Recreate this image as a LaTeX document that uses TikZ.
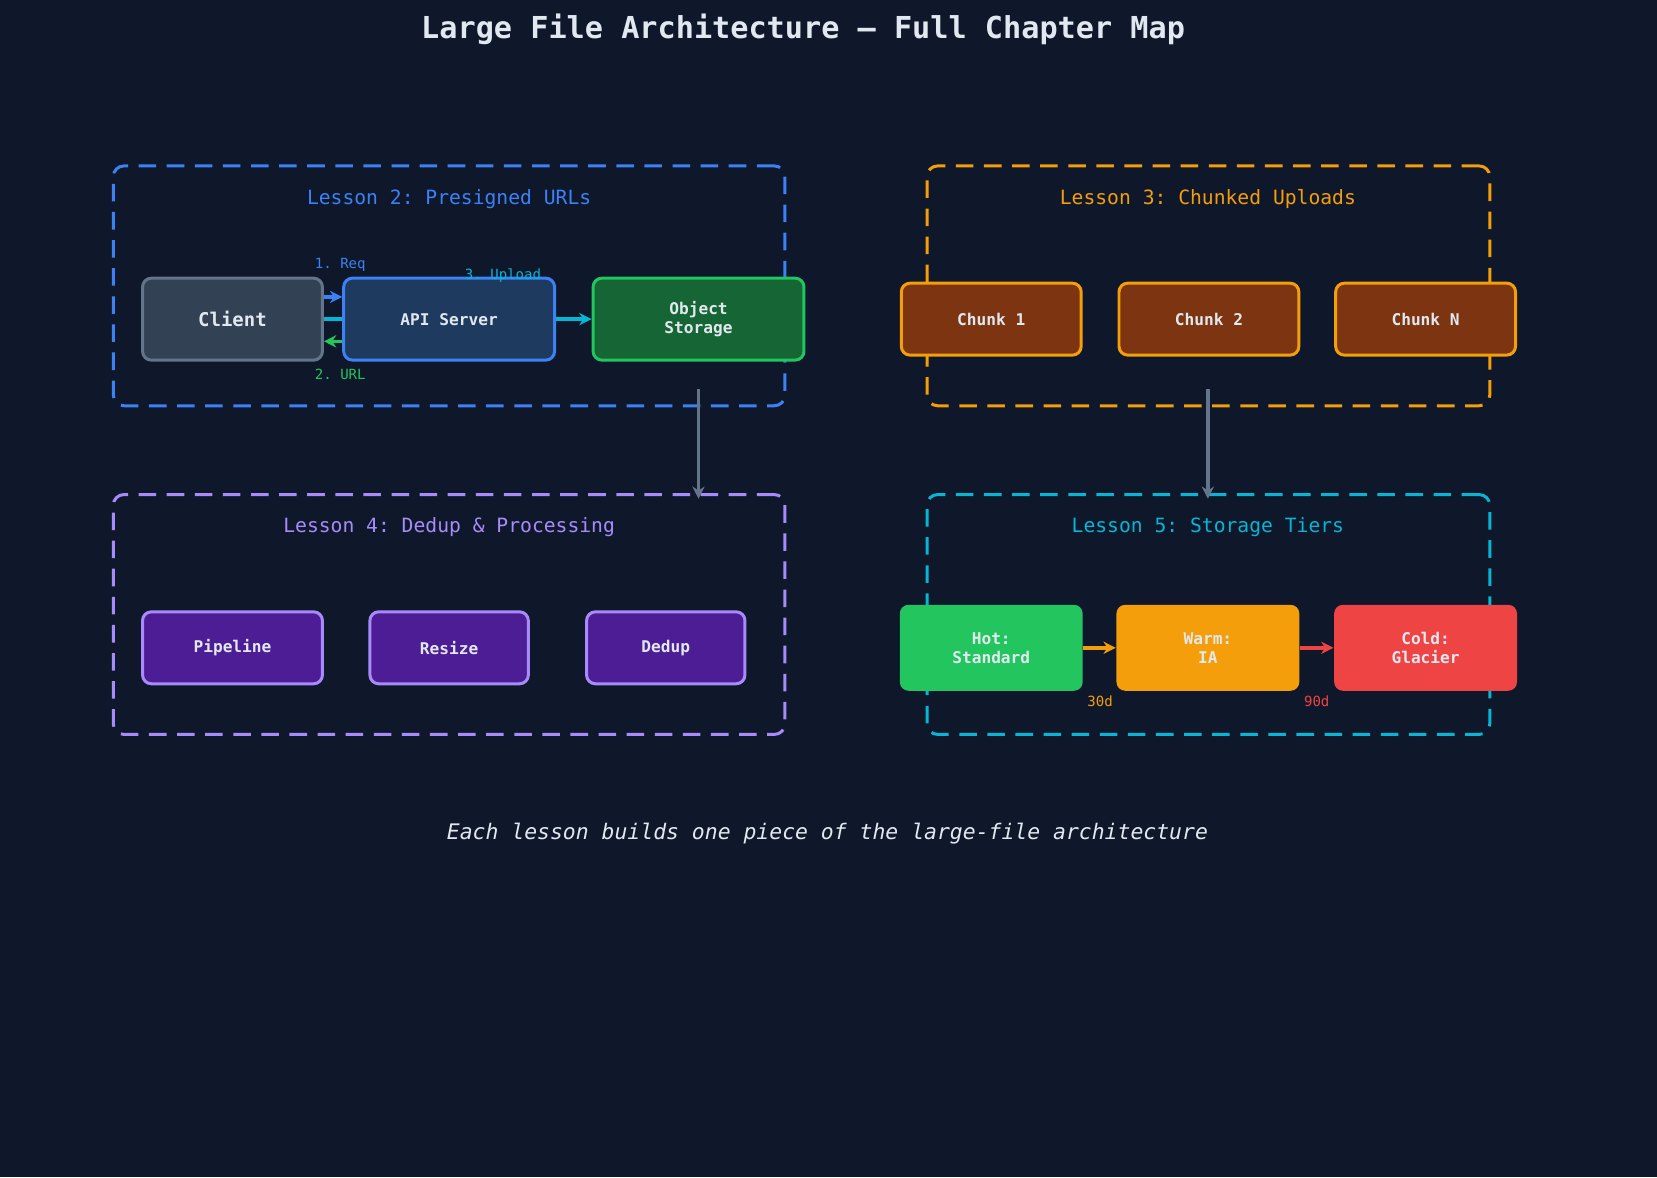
\documentclass[tikz,border=0pt]{standalone}
\usepackage{fontspec}
\setmonofont{DejaVu Sans Mono}
\usetikzlibrary{arrows.meta,positioning}
\definecolor{bg}{HTML}{0F172A}
\definecolor{txt}{HTML}{E2E8F0}
\definecolor{cblue}{HTML}{3B82F6}
\definecolor{corange}{HTML}{F59E0B}
\definecolor{cpurple}{HTML}{A78BFA}
\definecolor{ccyan}{HTML}{06B6D4}
\definecolor{cgreen}{HTML}{22C55E}
\definecolor{cred}{HTML}{EF4444}
\definecolor{cgray}{HTML}{64748B}
\definecolor{fclient}{HTML}{334155}
\definecolor{fapi}{HTML}{1E3A5F}
\definecolor{fobj}{HTML}{166534}
\definecolor{fchunk}{HTML}{7C3510}
\definecolor{fproc}{HTML}{4C1D95}
\begin{document}
\begin{tikzpicture}[x=0.010568cm,y=-0.010568cm,font=\ttfamily,
    lesson/.style={draw=#1,dashed,dash pattern=on 5pt off 3pt,line width=0.85pt,rounded corners=3pt,minimum height=2.40cm},
    ltitle/.style={text=#1,font=\ttfamily\fontsize{5.6}{6}\selectfont},
    box/.style={draw=#1,line width=0.85pt,rounded corners=2.5pt,text=txt,align=center,font=\ttfamily\bfseries\fontsize{4.6}{5.4}\selectfont},
    tier/.style={fill=#1,rounded corners=2.5pt,text=txt,align=center,minimum width=1.83cm,minimum height=0.86cm,font=\ttfamily\bfseries\fontsize{4.6}{5.4}\selectfont},
    small/.style={text=#1,font=\ttfamily\fontsize{4}{5}\selectfont},
    arr/.style={draw=#1,line width=1pt,-{Stealth[length=3.5pt,width=3.5pt]}}]
  \fill[bg] (0,0) rectangle (1568,1114);
  \useasboundingbox (0,0) rectangle (1568,1114);

  \node[text=txt,font=\ttfamily\bfseries\fontsize{8.6}{10}\selectfont] (title) at (760,28) {Large File Architecture — Full Chapter Map};

  %%% lesson frames
  \node[lesson=cblue,minimum width=6.72cm] (l2) at (425,270.5) {};
  \node[lesson=corange,minimum width=5.63cm] (l3) at (1143.5,270.5) {};
  \node[lesson=cpurple,minimum width=6.72cm] (l4) at (425,581.5) {};
  \node[lesson=ccyan,minimum width=5.63cm] (l5) at (1143.5,581.5) {};
  \node[ltitle=cblue] (t2) at (425,188) {Lesson 2: Presigned URLs};
  \node[ltitle=corange] (t3) at (1143,188) {Lesson 3: Chunked Uploads};
  \node[ltitle=cpurple] (t4) at (425,499) {Lesson 4: Dedup \& Processing};
  \node[ltitle=ccyan] (t5) at (1143,499) {Lesson 5: Storage Tiers};

  %%% lesson 2
  \node[box=cgray,fill=fclient,minimum width=1.80cm,minimum height=0.82cm,font=\ttfamily\bfseries\fontsize{5.4}{6}\selectfont] (client) at (220,302) {Client};
  \node[box=cblue,fill=fapi,minimum width=2.11cm,minimum height=0.82cm] (api) at (425,302) {API Server};
  \node[box=cgreen,fill=fobj,minimum width=2.11cm,minimum height=0.82cm] (obj) at (661,302) {Object\\Storage};
  \draw[arr=cblue] (client.east |- 0,281) -- (api.west |- 0,281);
  \draw[draw=ccyan,line width=1pt] (client.east) -- (api.west);
  \draw[arr=cgreen] (api.west |- 0,323) -- (client.east |- 0,323);
  \draw[arr=ccyan] (api) -- (obj);
  \node[small=cblue] (lreq) at (322,251) {1. Req};
  \node[small=cgreen] (lurl) at (322,354) {2. URL};
  \node[small=ccyan] (lup) at (476,261) {3. Upload};

  %%% lesson 3
  \node[box=corange,fill=fchunk,minimum width=1.80cm,minimum height=0.72cm] (c1) at (938,302) {Chunk 1};
  \node[box=corange,fill=fchunk,minimum width=1.80cm,minimum height=0.72cm] (c2) at (1144,302) {Chunk 2};
  \node[box=corange,fill=fchunk,minimum width=1.80cm,minimum height=0.72cm] (cn) at (1349,302) {Chunk N};

  %%% lesson 4
  \node[box=cpurple,fill=fproc,minimum width=1.80cm,minimum height=0.72cm] (pipe) at (220,613) {Pipeline};
  \node[box=cpurple,fill=fproc,minimum width=1.585cm,minimum height=0.72cm] (resize) at (425,613) {Resize};
  \node[box=cpurple,fill=fproc,minimum width=1.585cm,minimum height=0.72cm] (dedup) at (630,613) {Dedup};

  %%% lesson 5
  \node[tier=cgreen] (hot) at (938,613) {Hot:\\Standard};
  \node[tier=corange] (warm) at (1143,613) {Warm:\\IA};
  \node[tier=cred] (cold) at (1349,613) {Cold:\\Glacier};
  \draw[arr=corange] (hot) -- (warm);
  \draw[arr=cred] (warm) -- (cold);
  \node[small=corange] (l30) at (1041,664) {30d};
  \node[small=cred] (l90) at (1246,664) {90d};

  %%% between lessons
  \coordinate (d1a) at (661,368);
  \coordinate (d1b) at (661,472);
  \coordinate (d2a) at (1143,368);
  \coordinate (d2b) at (1143,472);
  \draw[arr=cgray] (d1a) -- (d1b);
  \draw[arr=cgray] (d2a) -- (d2b);

  \node[text=txt,font=\ttfamily\itshape\fontsize{6.1}{7}\selectfont] (caption) at (783,789) {Each lesson builds one piece of the large-file architecture};
\end{tikzpicture}
\end{document}
